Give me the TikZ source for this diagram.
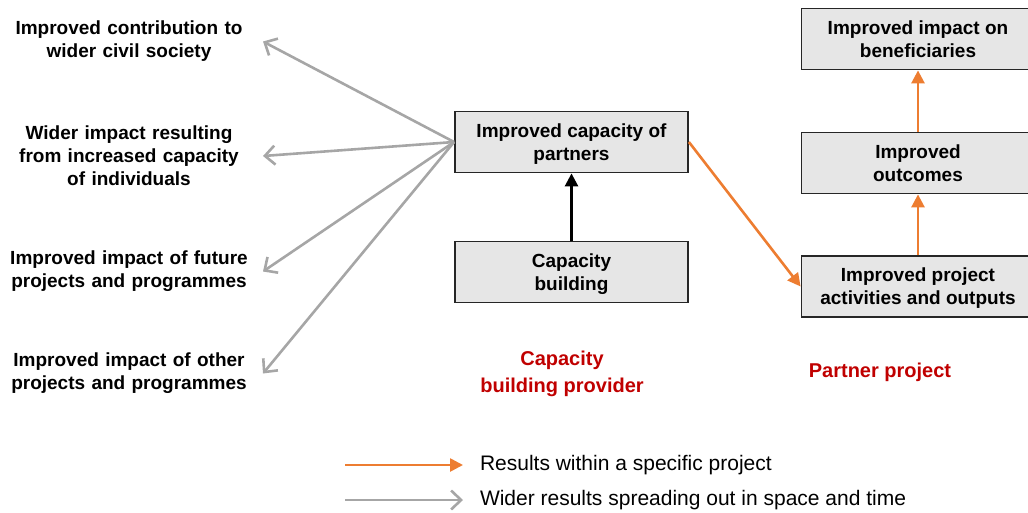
\documentclass[tikz,border=0pt]{standalone}
\usepackage{fontspec}
\setmainfont{Liberation Sans}
\usetikzlibrary{arrows.meta}
\definecolor{boxgray}{RGB}{230,230,230}
\definecolor{linegray}{RGB}{166,166,166}
\definecolor{resultorange}{RGB}{237,125,49}
\definecolor{groupred}{RGB}{192,0,0}
\tikzset{
  box/.style={draw=black!85, line width=1.8pt, fill=boxgray, minimum width=233pt,
    minimum height=61pt, align=center, text depth=0pt,
    font=\bfseries\fontsize{19}{23}\selectfont},
  outcome/.style={text width=262pt, align=center, inner sep=0pt, outer xsep=3pt,
    font=\bfseries\fontsize{19}{23}\selectfont},
  group/.style={align=center, text=groupred, font=\bfseries\fontsize{20}{27}\selectfont},
  legendtext/.style={anchor=west, inner sep=0pt, outer xsep=17pt,
    font=\fontsize{21}{25}\selectfont},
  wide/.style={draw=linegray, line width=2.6pt, -{Straight Barb[length=10pt,width=19pt]}},
  specific/.style={draw=resultorange, line width=2.6pt, -{Triangle[length=13pt,width=13pt]}},
  direct/.style={draw=black, line width=2.6pt, -{Triangle[length=13pt,width=13pt]}}
}
\begin{document}
\begin{tikzpicture}[x=1pt,y=-1pt]
\useasboundingbox (0,0) rectangle (1028,512);
% capacity building provider
\node[box] (cap) at (571.5,142) {Improved capacity of\\partners};
\node[box] (build) at (571.5,272) {Capacity\\building};
\draw[direct] (build) -- (cap);
% partner project
\node[box] (act) at (918,286.5) {Improved project\\activities and outputs};
\node[box] (outc) at (918,163) {Improved\\outcomes};
\node[box] (benef) at (918,39) {Improved impact on\\beneficiaries};
\draw[specific] (act) -- (outc);
\draw[specific] (outc) -- (benef);
\draw[specific] (cap.east) -- (act.west);
% wider results
\node[outcome] (civil) at (129,41.5) {Improved contribution to\\wider civil society};
\node[outcome] (indiv) at (129,156) {Wider impact resulting\\from increased capacity\\of individuals};
\node[outcome] (future) at (129,271.5) {Improved impact of future\\projects and programmes};
\node[outcome] (other) at (129,373.5) {Improved impact of other\\projects and programmes};
\foreach \n in {civil,indiv,future,other}
\draw[wide] (cap.west) -- (\n.east);
% group labels
\node[group] (provider) at (562,374) {Capacity\\building provider};
\node[group] (partner) at (880,372) {Partner project};
% legend
\coordinate (specstart) at (345,465);
\coordinate (widestart) at (345,500);
\node[legendtext] (spectext) at (463,465) {Results within a specific project};
\node[legendtext] (widetext) at (463,500) {Wider results spreading out in space and time};
\draw[specific] (specstart) -- (spectext.west);
\draw[wide] (widestart) -- (widetext.west);
\end{tikzpicture}
\end{document}
